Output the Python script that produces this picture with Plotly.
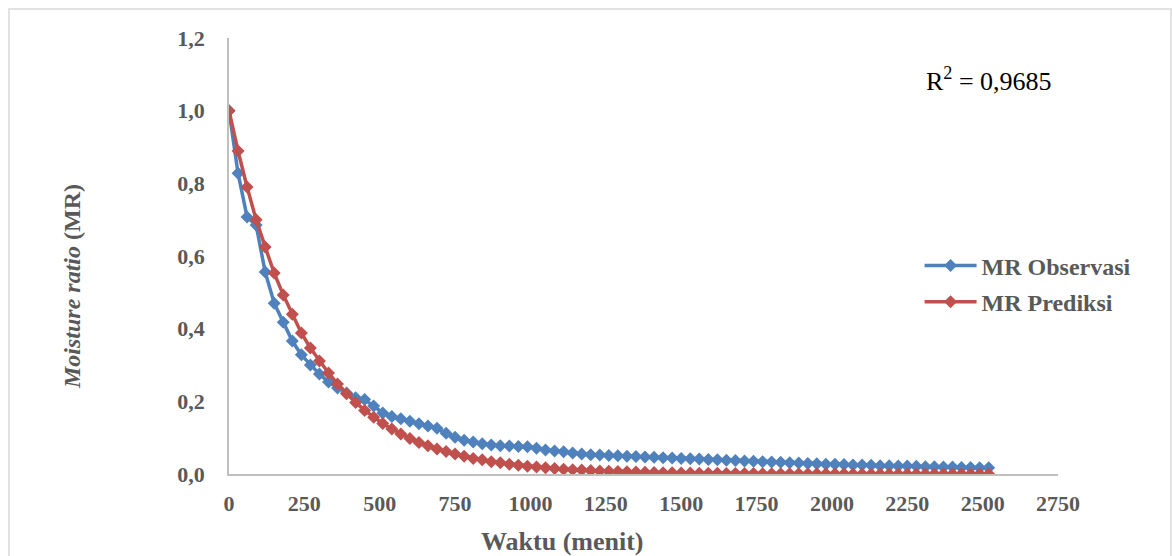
import plotly.graph_objects as go

waktu = list(range(0, 2521, 30))

mr_observasi = [
    1.000, 0.828, 0.707, 0.685, 0.556, 0.470, 0.418, 0.366, 0.328, 0.300,   # 0-270
    0.275, 0.253, 0.237, 0.223, 0.210, 0.205, 0.187, 0.168, 0.158, 0.152,   # 300-570
    0.145, 0.138, 0.132, 0.126, 0.112, 0.101, 0.093, 0.088, 0.083, 0.080,   # 600-870
    0.078, 0.077, 0.076, 0.075, 0.071, 0.066, 0.063, 0.061, 0.058, 0.055,   # 900-1170
    0.053, 0.052, 0.051, 0.050, 0.049, 0.048, 0.047, 0.046, 0.045, 0.044,   # 1200-1470
    0.043, 0.042, 0.041, 0.040, 0.039, 0.038, 0.037, 0.036, 0.035, 0.034,   # 1500-1770
    0.033, 0.032, 0.031, 0.030, 0.029, 0.028, 0.027, 0.027, 0.026, 0.025,   # 1800-2070
    0.025, 0.024, 0.023, 0.023, 0.022, 0.022, 0.021, 0.020, 0.020, 0.019,   # 2100-2370
    0.019, 0.018, 0.018, 0.017, 0.017,                                      # 2400-2520
]

mr_prediksi = [
    1.000, 0.889, 0.790, 0.700, 0.625, 0.553, 0.493, 0.440, 0.388, 0.347,   # 0-270
    0.311, 0.278, 0.248, 0.221, 0.197, 0.175, 0.156, 0.139, 0.124, 0.110,   # 300-570
    0.098, 0.087, 0.078, 0.069, 0.062, 0.055, 0.049, 0.043, 0.039, 0.034,   # 600-870
    0.031, 0.027, 0.024, 0.021, 0.019, 0.017, 0.015, 0.013, 0.012, 0.011,   # 900-1170
    0.0095, 0.0085, 0.0075, 0.0067, 0.0060, 0.0053, 0.0047, 0.0042, 0.0037, 0.0033,  # 1200-1470
    0.0030, 0.0026, 0.0023, 0.0021, 0.0018, 0.0016, 0.0015, 0.0013, 0.0012, 0.0010,  # 1500-1770
    0.0009, 0.0008, 0.0007, 0.0006, 0.0006, 0.0005, 0.0004, 0.0004, 0.0004, 0.0003,  # 1800-2070
    0.0003, 0.0003, 0.0002, 0.0002, 0.0002, 0.0002, 0.0001, 0.0001, 0.0001, 0.0001,  # 2100-2370
    0.0001, 0.0001, 0.0001, 0.0001, 0.0001,                                          # 2400-2520
]

x_ticks = [0, 250, 500, 750, 1000, 1250, 1500, 1750, 2000, 2250, 2500, 2750]
y_ticks = [0.0, 0.2, 0.4, 0.6, 0.8, 1.0, 1.2]

FONT = "Liberation Serif, Times New Roman, serif"
GRAY = "#595959"

fig = go.Figure()
fig.add_trace(go.Scatter(
    x=waktu, y=mr_observasi, mode="lines+markers", name="MR Observasi",
    legendgroup="obs",
    line=dict(color="#4F81BD", width=3.5),
    marker=dict(symbol="diamond", size=10, color="#4F81BD"),
))
fig.add_trace(go.Scatter(
    x=waktu, y=mr_prediksi, mode="lines+markers", name="MR Prediksi",
    legendgroup="pred",
    line=dict(color="#C0504D", width=3.5),
    marker=dict(symbol="diamond", size=10, color="#C0504D"),
))

fig.update_layout(
    width=1172, height=556,
    margin=dict(l=229, r=114, t=38, b=82),
    paper_bgcolor="white", plot_bgcolor="white",
    separators=",.",
    font=dict(family=FONT, color=GRAY),
    showlegend=True,
    legend=dict(
        x=0.833, y=0.529, xanchor="left", yanchor="top",
        font=dict(family=FONT, size=24, color=GRAY, weight="bold"),
        bgcolor="rgba(0,0,0,0)", traceorder="grouped", tracegroupgap=2, itemwidth=52,
    ),
    xaxis=dict(
        range=[0, 2750], tickvals=x_ticks, ticktext=[str(v) for v in x_ticks],
        showgrid=False, zeroline=False, showline=True, linecolor="#BFBFBF", linewidth=1.5,
        ticks="", ticklabelstandoff=9,
        tickfont=dict(family=FONT, size=22, color=GRAY, weight="bold"),
    ),
    yaxis=dict(
        range=[0, 1.2], tickvals=y_ticks, tickformat=".1f",
        showgrid=False, zeroline=False, showline=True, linecolor="#BFBFBF", linewidth=1.5,
        ticks="", ticklabelstandoff=18,
        tickfont=dict(family=FONT, size=22, color=GRAY, weight="bold"),
    ),
    shapes=[dict(
        type="rect", xref="paper", yref="paper",
        x0=-0.2654, x1=1.1363, y0=-0.30, y1=1.0665,
        line=dict(color="#D9D9D9", width=1.5), fillcolor="rgba(0,0,0,0)", layer="below",
    )],
    annotations=[
        dict(text="R<sup>2</sup> = 0,9685", xref="paper", yref="paper",
             x=0.838, y=0.905, xanchor="left", yanchor="middle", showarrow=False,
             font=dict(family=FONT, size=26, color="black")),
        dict(text="<b>Waktu (menit)</b>", xref="paper", yref="paper",
             x=(562 - 229) / 829, y=(474 - 541) / 436, xanchor="center", yanchor="middle",
             showarrow=False, font=dict(family=FONT, size=26, color=GRAY)),
        dict(text="<b><i>Moisture ratio</i> (MR)</b>", xref="paper", yref="paper",
             x=(72 - 229) / 829, y=(474 - 287) / 436, xanchor="center", yanchor="middle",
             showarrow=False, textangle=-90, font=dict(family=FONT, size=24, color=GRAY)),
    ],
)

fig.write_html("out.html")
